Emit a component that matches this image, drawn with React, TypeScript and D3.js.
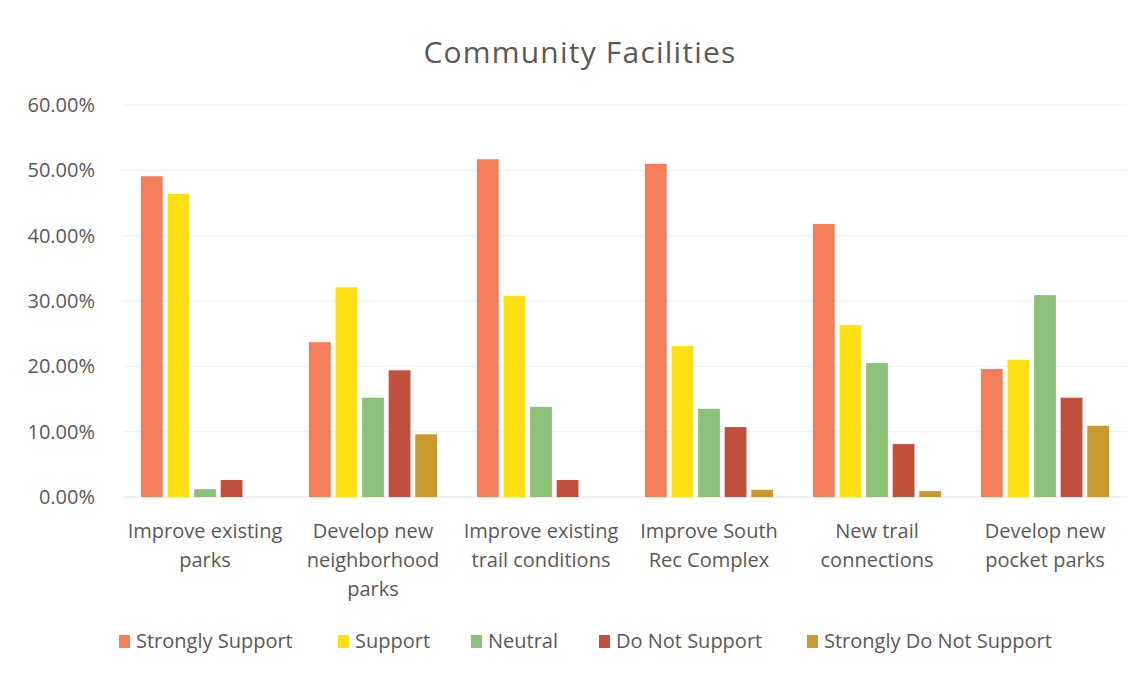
import React from "react";
import * as d3 from "d3";

const categories: string[][] = [
  ["Improve existing", "parks"],
  ["Develop new", "neighborhood", "parks"],
  ["Improve existing", "trail conditions"],
  ["Improve South", "Rec Complex"],
  ["New trail", "connections"],
  ["Develop new", "pocket parks"],
];
const seriesNames = ["Strongly Support", "Support", "Neutral", "Do Not Support", "Strongly Do Not Support"];
const seriesColors = ["#F47E5A", "#FFE014", "#8CC17A", "#C1503C", "#C9992F"];
const stronglySupport = [49.1, 23.7, 51.7, 51.0, 41.8, 19.6];
const support = [46.4, 32.1, 30.8, 23.1, 26.3, 21.0];
const neutral = [1.2, 15.2, 13.8, 13.5, 20.5, 30.9];
const doNotSupport = [2.6, 19.4, 2.6, 10.7, 8.1, 15.2];
const stronglyDoNotSupport = [0, 9.6, 0, 1.1, 0.9, 10.9];
const yTicks = [0, 10, 20, 30, 40, 50, 60];

const seriesValues = [stronglySupport, support, neutral, doNotSupport, stronglyDoNotSupport];

const W = 1144;
const H = 677;
const FONT = "'Open Sans', sans-serif";
const TEXT = "#595959";

export default function App() {
  const left = 121;
  const right = 1129;
  const top = 105;
  const bottom = 497;
  const x0 = d3.scaleBand<number>().domain(d3.range(categories.length)).range([left, right]).paddingInner(0).paddingOuter(0);
  const x1 = d3.scaleBand<number>().domain(d3.range(seriesNames.length)).range([0, x0.bandwidth()]).paddingInner(0.18).paddingOuter(0.75);
  const y = d3.scaleLinear().domain([0, 60]).range([bottom, top]);

  const legendX = [119, 338, 471, 599, 807];

  return (
    <svg width={W} height={H} style={{ position: "absolute", left: 0, top: 0, background: "#fff" }}>
      <rect x={0} y={0} width={W} height={H} fill="#fff" />
      <text x={580} y={63} textAnchor="middle" fontFamily={FONT} fontSize={30} letterSpacing={1.2} fill={TEXT}>
        Community Facilities
      </text>
      {yTicks.map((t) => (
        <g key={t}>
          <line x1={left + 2} x2={right - 2} y1={y(t)} y2={y(t)} stroke={t === 0 ? "#e4e4e4" : "#f0f0f0"} strokeWidth={1} />
          <text x={95} y={y(t) + 7} textAnchor="end" fontFamily={FONT} fontSize={20} fill={TEXT}>
            {t.toFixed(2) + "%"}
          </text>
        </g>
      ))}
      {categories.map((cat, ci) => (
        <g key={ci}>
          {seriesValues.map((vals, si) =>
            vals[ci] > 0 ? (
              <rect
                key={si}
                x={(x0(ci) as number) + (x1(si) as number)}
                y={y(vals[ci])}
                width={x1.bandwidth()}
                height={bottom - y(vals[ci])}
                fill={seriesColors[si]}
              />
            ) : null
          )}
          {cat.map((line, li) => (
            <text
              key={li}
              x={(x0(ci) as number) + x0.bandwidth() / 2}
              y={538 + li * 29}
              textAnchor="middle"
              fontFamily={FONT}
              fontSize={20}
              fill={TEXT}
            >
              {line}
            </text>
          ))}
        </g>
      ))}
      {seriesNames.map((name, i) => (
        <g key={name}>
          <rect x={legendX[i]} y={635} width={11} height={13} fill={seriesColors[i]} />
          <text x={legendX[i] + 17} y={648} fontFamily={FONT} fontSize={20} fill={TEXT}>
            {name}
          </text>
        </g>
      ))}
    </svg>
  );
}
